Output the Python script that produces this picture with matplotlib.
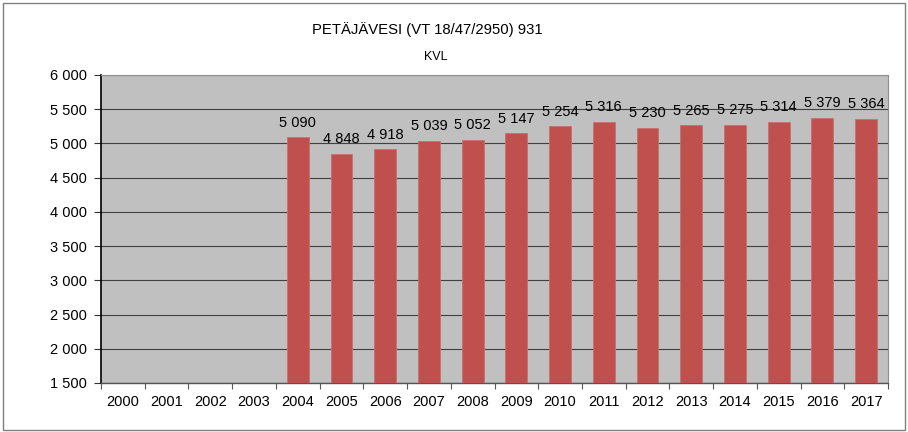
import matplotlib
matplotlib.use("Agg")
import matplotlib.pyplot as plt
import numpy as np
from matplotlib.patches import Rectangle

years = [str(y) for y in range(2000, 2018)]
values = [np.nan, np.nan, np.nan, np.nan, 5090, 4848, 4918, 5039, 5052, 5147,
          5254, 5316, 5230, 5265, 5275, 5314, 5379, 5364]
yticks = [1500, 2000, 2500, 3000, 3500, 4000, 4500, 5000, 5500, 6000]

plt.rcParams['font.family'] = ['Liberation Sans', 'DejaVu Sans']

def fmt(v):
    return f"{int(v):,}".replace(",", " ")

fig = plt.figure(figsize=(9.08, 4.32), dpi=100)
W, H = 908, 432
ax = fig.add_axes([101 / W, 1 - 383 / H, (888 - 101) / W, (383 - 75) / H])
ax.set_facecolor('#C0C0C0')

x = np.arange(len(years))
ax.bar(x, [0 if np.isnan(v) else v for v in values], width=0.5, color='#C0504D',
       edgecolor='#C87070', linewidth=0.6, zorder=3)
ax.set_xlim(-0.5, len(years) - 0.5)
ax.set_ylim(1500, 6000)
ax.set_yticks(yticks)
ax.set_yticklabels([fmt(v) for v in yticks], fontsize=10.5)
ax.yaxis.grid(True, color='#404040', linewidth=0.8, zorder=1)
ax.set_axisbelow(True)

ax.set_xticks(x)
ax.set_xticklabels(years, fontsize=10.5)
ax.tick_params(axis='x', length=0, pad=9)
ax.set_xticks(np.arange(-0.5, len(years), 1), minor=True)
ax.tick_params(axis='x', which='minor', length=4, width=0.8, color='#555555')
ax.tick_params(axis='y', length=5, width=0.8, pad=5, color='#333333')

for s in ['top', 'right']:
    ax.spines[s].set_color('#909090')
    ax.spines[s].set_linewidth(0.8)
ax.spines['left'].set_color('#000000')
ax.spines['left'].set_linewidth(1.2)
ax.spines['bottom'].set_color('#555555')
ax.spines['bottom'].set_linewidth(1.0)

for xi, v in zip(x, values):
    if not np.isnan(v):
        ax.text(xi, v + 110, fmt(v), ha='center', va='bottom', fontsize=10.5, zorder=4)

fig.text(427 / W, 1 - 30 / H, 'PETÄJÄVESI (VT 18/47/2950) 931', ha='center', va='center',
         fontsize=10.7)
fig.text(436 / W, 1 - 57 / H, 'KVL', ha='center', va='center', fontsize=9)

fig.patches.append(Rectangle((3 / W, 2 / H), (905 - 3) / W, (429 - 2) / H,
                             transform=fig.transFigure, fill=False,
                             edgecolor='#808080', linewidth=1.0))

fig.savefig('out.png', dpi=100, facecolor='white')
